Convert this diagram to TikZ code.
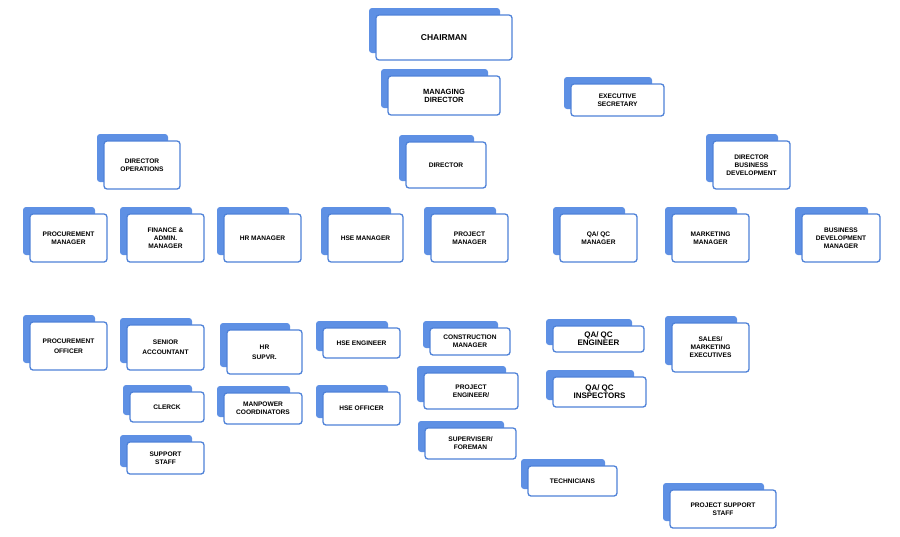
\documentclass[tikz,border=0pt]{standalone}
\usepackage{fontspec}
\setmainfont{Liberation Sans}
\usetikzlibrary{backgrounds}
\definecolor{bl}{HTML}{4F82D8}
\definecolor{bk}{HTML}{5E90E4}
\tikzset{box/.style={draw=bl,line width=1.3pt,fill=white,rounded corners=3pt,inner sep=1pt,outer sep=0pt,align=center,font=\bfseries\fontsize{6.6}{8}\selectfont},
ln/.style={draw=bl,line width=1.8pt}}
\newcommand\bx[6]{%
 \fill[bk,rounded corners=3pt] ({#2-7},{#3-7}) rectangle ({#4-12},{#5-7});
 \node[box,minimum width={(#4-#2)*1pt},minimum height={(#5-#3)*1pt}] (#1) at ({(#2+#4)/2},{(#3+#5)/2}) {#6};}
\begin{document}
\begin{tikzpicture}[x=1pt,y=-1pt]
\useasboundingbox[fill=white] (0,0) rectangle (900,536);
\bx{ch}{376}{15}{512}{60}{\fontsize{8.5}{10}\selectfont CHAIRMAN}
\bx{md}{388}{76}{500}{115}{\fontsize{7.5}{9}\selectfont MANAGING\\\fontsize{7.5}{9}\selectfont DIRECTOR}
\bx{es}{571}{84}{664}{116}{EXECUTIVE\\SECRETARY}
\bx{ops}{104}{141}{180}{189}{DIRECTOR\\OPERATIONS}
\bx{dir}{406}{142}{486}{188}{DIRECTOR}
\bx{bd}{713}{141}{790}{189}{DIRECTOR\\BUSINESS\\DEVELOPMENT}
\bx{pm}{30}{214}{107}{262}{PROCUREMENT\\MANAGER}
\bx{fin}{127}{214}{204}{262}{FINANCE \&\\ADMIN.\\MANAGER}
\bx{hr}{224}{214}{301}{262}{HR MANAGER}
\bx{hse}{328}{214}{403}{262}{HSE MANAGER}
\bx{prm}{431}{214}{508}{262}{PROJECT\\MANAGER}
\bx{qa}{560}{214}{637}{262}{QA/ QC\\MANAGER}
\bx{mm}{672}{214}{749}{262}{MARKETING\\MANAGER}
\bx{bdm}{802}{214}{880}{262}{BUSINESS\\DEVELOPMENT\\MANAGER}
\bx{po}{30}{322}{107}{370}{PROCUREMENT\\[2pt]OFFICER}
\bx{sa}{127}{325}{204}{370}{SENIOR\\[2pt]ACCOUNTANT}
\bx{cl}{130}{392}{204}{422}{CLERCK}
\bx{ss}{127}{442}{204}{474}{SUPPORT\\STAFF}
\bx{hrs}{227}{330}{302}{374}{HR\\[2pt]SUPVR.}
\bx{mp}{224}{393}{302}{424}{MANPOWER\\COORDINATORS}
\bx{hsee}{323}{328}{400}{358}{HSE ENGINEER}
\bx{hseo}{323}{392}{400}{425}{HSE OFFICER}
\bx{cm}{430}{328}{510}{355}{CONSTRUCTION\\MANAGER}
\bx{pe}{424}{373}{518}{409}{PROJECT\\ENGINEER/}
\bx{sf}{425}{428}{516}{459}{SUPERVISER/\\FOREMAN}
\bx{te}{528}{466}{617}{496}{TECHNICIANS}
\bx{pss}{670}{490}{776}{528}{PROJECT SUPPORT\\STAFF}
\bx{qae}{553}{326}{644}{352}{\fontsize{8}{9.5}\selectfont QA/ QC\\\fontsize{8}{9.5}\selectfont ENGINEER}
\bx{qai}{553}{377}{646}{407}{\fontsize{8}{9.5}\selectfont QA/ QC\\\fontsize{8}{9.5}\selectfont INSPECTORS}
\bx{sm}{672}{323}{749}{372}{SALES/\\MARKETING\\EXECUTIVES}
\begin{scope}[on background layer]
\draw[ln] (ch.south) -- (md.north);
\draw[ln] (md.east) -- (es.west);
\draw[ln] (md.south) -- (md.south|-0,125);
\draw[ln] (ops.north) -- (ops.north|-0,125) -| (bd.north);
\draw[ln] (dir.north) -- (dir.north|-0,125);
\draw[ln] (ops.south) -- (ops.south|-0,198);
\draw[ln] (pm.north) -- (pm.north|-0,198) -| (hr.north);
\draw[ln] (fin.north) -- (fin.north|-0,198);
\draw[ln] (dir.south) -- (dir.south|-0,198);
\draw[ln] (hse.north) -- (hse.north|-0,198) -| (qa.north);
\draw[ln] (prm.north) -- (prm.north|-0,198);
\draw[ln] (bd.south) -- (bd.south|-0,198);
\draw[ln] (mm.north) -- (mm.north|-0,198) -| (bdm.north);
\draw[ln] (pm.south) -- (po.north);
\draw[ln] (fin.south) -- (sa.north);
\draw[ln] (sa.south) -- (sa.south|-cl.north);
\draw[ln] (cl.south) -- (cl.south|-ss.north);
\draw[ln] (hr.south) -- (hr.south|-hrs.north);
\draw[ln] (hrs.south) -- (hrs.south|-mp.north);
\draw[ln] (hse.south) -- (hse.south|-hsee.north);
\draw[ln] (hsee.south) -- (hsee.south|-hseo.north);
\draw[ln] (prm.south) -- (prm.south|-cm.north);
\draw[ln] (cm.south) -- (cm.south|-pe.north);
\draw[ln] (pe.south) -- (pe.south|-sf.north);
\draw[ln] (qa.south) -- (qa.south|-qae.north);
\draw[ln] (qae.south) -- (qae.south|-qai.north);
\draw[ln] (mm.south) -- (mm.south|-sm.north);
\draw[ln] (sf.east|-0,452) -| (565,466);
\draw[ln] (te.east|-0,478) -| (667,490);
\end{scope}
\end{tikzpicture}
\end{document}
